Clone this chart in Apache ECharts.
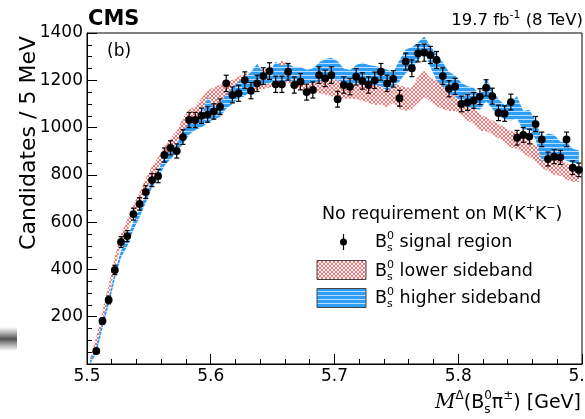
<!DOCTYPE html>
<html>
<head>
<meta charset="utf-8">
<script src="https://cdn.jsdelivr.net/npm/echarts@6/dist/echarts.min.js"></script>
<style>
html,body{margin:0;padding:0;background:#fff}
#chart{width:585px;height:419px}
</style>
</head>
<body>
<div id="chart"></div>
<script>
"use strict";
// 5 MeV bins from 5.500 GeV
var binLow = 5.5;
var binWidth = 0.005;
var xTicks = [5.5, 5.6, 5.7, 5.8, 5.9];
var yTicks = [0, 200, 400, 600, 800, 1000, 1200, 1400];

// signal region counts, bins 1..79
var firstSignalBin = 1;
var signal = [55, 182, 271, 398, 516, 541, 634, 677, 727, 778, 795, 884, 914, 901, 960,
    1032, 1032, 1050, 1055, 1068, 1088, 1187, 1138, 1145, 1201, 1156, 1187, 1218, 1239, 1183,
    1183, 1236, 1180, 1194, 1150, 1159, 1222, 1208, 1222, 1120, 1180, 1173, 1215, 1197, 1180,
    1200, 1236, 1187, 1206, 1124, 1279, 1251, 1314, 1317, 1307, 1286, 1218, 1164, 1174, 1100,
    1106, 1115, 1131, 1168, 1133, 1062, 1059, 1108, 957, 969, 962, 1015, 950, 867, 877,
    874, 950, 830, 821];

// lower sideband band (centre, half width), bins 0..79
var lowerMid = [15, 90, 200, 310, 430, 525, 585, 650, 700, 760, 810, 850, 890, 930, 960,
    1005, 1040, 1055, 1090, 1120, 1130, 1140, 1150, 1160, 1175, 1185, 1195, 1200, 1205, 1210,
    1225, 1240, 1230, 1210, 1200, 1195, 1190, 1185, 1180, 1172, 1165, 1160, 1160, 1165, 1160,
    1150, 1140, 1140, 1130, 1150, 1130, 1120, 1125, 1160, 1185, 1160, 1145, 1130, 1115, 1115,
    1095, 1070, 1050, 1020, 1015, 1000, 985, 970, 950, 945, 925, 910, 890, 870, 855,
    840, 830, 815, 800, 795];
var lowerHalf = [10, 25, 25, 25, 25, 25, 25, 25, 25, 25, 25, 25, 25, 25, 25,
    35, 35, 35, 35, 35, 42, 42, 42, 42, 42, 42, 42, 42, 42, 42,
    42, 42, 42, 40, 40, 40, 40, 40, 40, 40, 40, 38, 38, 45, 45,
    45, 45, 42, 45, 45, 50, 50, 45, 55, 55, 50, 55, 50, 45, 45,
    40, 40, 35, 35, 30, 30, 30, 30, 35, 35, 35, 35, 35, 40, 40,
    40, 35, 35, 30, 25];

// higher sideband band (centre, half width), bins 0..79
var higherMid = [8, 60, 165, 265, 375, 465, 515, 585, 640, 700, 765, 800, 855, 885, 910,
    960, 995, 1015, 1025, 1075, 1060, 1075, 1110, 1135, 1160, 1172, 1195, 1225, 1205, 1212,
    1240, 1225, 1235, 1225, 1222, 1215, 1220, 1235, 1245, 1250, 1240, 1220, 1215, 1225, 1230,
    1225, 1220, 1215, 1200, 1205, 1240, 1280, 1295, 1320, 1355, 1300, 1255, 1225, 1190, 1175,
    1150, 1130, 1125, 1105, 1160, 1120, 1085, 1065, 1070, 1085, 1030, 1035, 990, 905, 930,
    930, 905, 900, 880, 875];
var higherHalf = [8, 15, 15, 15, 15, 15, 18, 18, 18, 18, 18, 18, 18, 18, 18,
    28, 25, 25, 25, 55, 25, 30, 30, 35, 35, 40, 40, 45, 25, 25,
    38, 35, 35, 30, 34, 30, 30, 40, 45, 45, 40, 30, 28, 40, 45,
    40, 40, 40, 45, 30, 45, 50, 45, 40, 30, 45, 55, 50, 45, 45,
    40, 45, 45, 30, 50, 40, 35, 30, 40, 48, 40, 40, 40, 50, 45,
    40, 35, 40, 30, 28];

function binCenter(i) { return binLow + binWidth * (i + 0.5); }

var FONT = '"DejaVu Sans", sans-serif';
var measure = document.createElement('canvas').getContext('2d');
function tw(str, font) { measure.font = font; return measure.measureText(str).width; }

// lay out text pieces side by side; stack:true puts a piece under the previous one
function textRun(x, y, parts, alignRight) {
    var items = [], cur = 0, lastX = 0;
    parts.forEach(function (p) {
        var font = (p.pre || '') + p.size + 'px ' + (p.family || FONT);
        var w = tw(p.t, font);
        var px = p.stack ? lastX : cur;
        cur = Math.max(cur, px + w);
        lastX = px;
        items.push({t: p.t, font: font, x: px, dy: p.dy || 0});
    });
    var x0 = alignRight ? x - cur : x;
    return items.map(function (it) {
        return {
            type: 'text', silent: true, z: 100,
            style: {
                text: it.t, x: x0 + it.x, y: y + it.dy, font: it.font, fill: '#000',
                textAlign: 'left', align: 'left', textVerticalAlign: 'middle', verticalAlign: 'middle'
            }
        };
    });
}

function makePattern(draw) {
    var c = document.createElement('canvas');
    c.width = 4; c.height = 4;
    draw(c.getContext('2d'));
    return {image: c, repeat: 'repeat'};
}
var redHatch = makePattern(function (g) {
    g.fillStyle = '#ff6e6e';
    for (var i = 0; i < 4; i++) { g.fillRect(i, i, 1, 1); g.fillRect(3 - i, i, 1, 1); }
});
var blueHatch = makePattern(function (g) {
    g.fillStyle = '#2f9ef5';
    g.fillRect(0, 0, 4, 4);
    g.fillStyle = '#b8ddff';
    g.fillRect(0, 3, 4, 1);
});

function bandSeries(name, mid, half, fill, z) {
    return {
        type: 'custom', name: name, z: z, silent: true,
        data: [[5.7, 700]],
        renderItem: function (params, api) {
            var up = [], down = [];
            for (var i = 0; i < mid.length; i++) {
                up.push(api.coord([binCenter(i), mid[i] + half[i]]));
                down.unshift(api.coord([binCenter(i), Math.max(0, mid[i] - half[i])]));
            }
            return {type: 'polygon', shape: {points: up.concat(down)}, style: {fill: fill, stroke: null}};
        }
    };
}

var signalData = signal.map(function (v, k) {
    return [binCenter(k + firstSignalBin), v, Math.sqrt(v)]; // poisson error
});

var chart = echarts.init(document.getElementById('chart'), null, {renderer: 'canvas'});

var graphics = [];
graphics.push({
    type: 'rect', silent: true, shape: {x: 0, y: 327, width: 17, height: 24},
    style: {fill: new echarts.graphic.LinearGradient(0, 0, 0, 1, [
        {offset: 0, color: 'rgba(90,90,90,0)'},
        {offset: 0.5, color: 'rgba(60,60,60,0.9)'},
        {offset: 1, color: 'rgba(90,90,90,0)'}])}
});
graphics = graphics.concat(textRun(88, 20, [{t: 'CMS', size: 21, pre: 'bold '}]));
graphics = graphics.concat(textRun(583, 21, [
    {t: '19.7 fb', size: 16.5}, {t: '-1', size: 11, dy: -6}, {t: ' (8 TeV)', size: 16.5}], true));
graphics = graphics.concat(textRun(107, 52, [{t: '(b)', size: 17}]));
graphics.push({
    type: 'text', silent: true, x: 29, y: 36, rotation: Math.PI / 2,
    style: {text: 'Candidates / 5 MeV', font: '22px ' + FONT, fill: '#000',
        textAlign: 'right', align: 'right', textVerticalAlign: 'middle', verticalAlign: 'middle'}
});
graphics = graphics.concat(textRun(581, 403, [
    {t: 'M', size: 20, pre: 'italic ', family: '"DejaVu Serif", serif'},
    {t: '\u0394', size: 12, dy: -7},
    {t: '(B', size: 19},
    {t: '0', size: 12, dy: -7},
    {t: 's', size: 12, dy: 7, stack: true},
    {t: '\u03c0', size: 19},
    {t: '\u00b1', size: 12, dy: -7},
    {t: ') [GeV]', size: 19}], true));

// legend
graphics = graphics.concat(textRun(322, 214, [
    {t: 'No requirement on M(K', size: 17.5}, {t: '+', size: 11, dy: -6},
    {t: 'K', size: 17.5}, {t: '\u2212', size: 11, dy: -6}, {t: ')', size: 17.5}]));
function bsEntry(y, label) {
    return textRun(375, y, [{t: 'B', size: 17.5}, {t: '0', size: 11, dy: -6},
        {t: 's', size: 11, dy: 6, stack: true}, {t: label, size: 17.5}]);
}
graphics.push({type: 'line', silent: true, shape: {x1: 343.5, y1: 234, x2: 343.5, y2: 250}, style: {stroke: '#000', lineWidth: 1.2}});
graphics.push({type: 'circle', silent: true, shape: {cx: 343.5, cy: 242, r: 3.5}, style: {fill: '#000'}});
graphics = graphics.concat(bsEntry(242, ' signal region'));
graphics.push({type: 'rect', silent: true, shape: {x: 317, y: 260.5, width: 49, height: 19}, style: {fill: redHatch, stroke: '#444', lineWidth: 1}});
graphics = graphics.concat(bsEntry(271, ' lower sideband'));
graphics.push({type: 'rect', silent: true, shape: {x: 317, y: 288.5, width: 49, height: 19}, style: {fill: blueHatch, stroke: '#444', lineWidth: 1}});
graphics = graphics.concat(bsEntry(298, ' higher sideband'));

var option = {
    animation: false,
    backgroundColor: '#fff',
    grid: {left: 87, right: 3, top: 33, bottom: 55, outerBoundsMode: 'none', containLabel: false,
        show: true, borderColor: '#000', borderWidth: 1, backgroundColor: 'transparent'},
    xAxis: {
        type: 'value', min: xTicks[0], max: xTicks[xTicks.length - 1], interval: 0.1,
        axisLine: {show: true, onZero: false, lineStyle: {color: '#000', width: 1}},
        axisTick: {inside: true, length: 10, lineStyle: {color: '#000'}},
        minorTick: {show: true, splitNumber: 5, length: 5, lineStyle: {color: '#000'}},
        splitLine: {show: false},
        axisLabel: {color: '#000', fontFamily: FONT, fontSize: 17, margin: 4, hideOverlap: false,
            formatter: function (v) { return v.toFixed(1); }}
    },
    yAxis: {
        type: 'value', min: yTicks[0], max: yTicks[yTicks.length - 1], interval: 200,
        axisLine: {show: true, lineStyle: {color: '#000', width: 1}},
        axisTick: {inside: true, length: 10, lineStyle: {color: '#000'}},
        minorTick: {show: true, splitNumber: 4, length: 5, lineStyle: {color: '#000'}},
        splitLine: {show: false},
        axisLabel: {color: '#000', fontFamily: FONT, fontSize: 17, margin: 4,
            formatter: function (v) { return v === 0 ? '' : String(v); }}
    },
    graphic: graphics,
    series: [
        bandSeries('lower sideband', lowerMid, lowerHalf, redHatch, 2),
        bandSeries('higher sideband', higherMid, higherHalf, blueHatch, 3),
        {
            type: 'custom', name: 'signal region', z: 5, silent: true,
            data: signalData,
            renderItem: function (params, api) {
                var x = api.value(0), y = api.value(1), e = api.value(2);
                var p = api.coord([x, y]);
                var hi = api.coord([x, y + e])[1];
                var lo = api.coord([x, y - e])[1];
                var s = {stroke: '#000', lineWidth: 1.2};
                return {
                    type: 'group', children: [
                        {type: 'line', shape: {x1: p[0], y1: hi, x2: p[0], y2: lo}, style: s},
                        {type: 'line', shape: {x1: p[0] - 2.5, y1: hi, x2: p[0] + 2.5, y2: hi}, style: s},
                        {type: 'line', shape: {x1: p[0] - 2.5, y1: lo, x2: p[0] + 2.5, y2: lo}, style: s},
                        {type: 'circle', shape: {cx: p[0], cy: p[1], r: 3.9}, style: {fill: '#000'}}
                    ]
                };
            }
        }
    ]
};
chart.setOption(option);
</script>
</body>
</html>
